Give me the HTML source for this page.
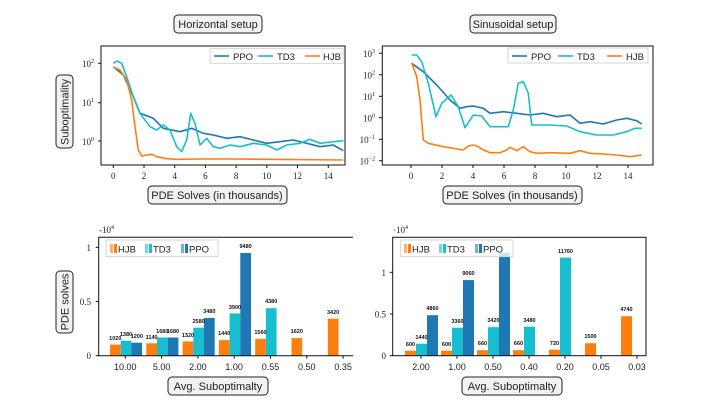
<!DOCTYPE html>
<html><head><meta charset="utf-8"><style>
html,body{margin:0;padding:0;background:#fff;width:703px;height:419px;overflow:hidden}
svg{display:block}
.t{font-family:"Liberation Serif",serif;font-size:9px;fill:#222}
.s{font-family:"Liberation Sans",sans-serif}
.lab{font-family:"Liberation Sans",sans-serif;font-size:11px;fill:#222}
.v{font-family:"Liberation Sans",sans-serif;font-size:5.5px;font-weight:bold;fill:#111}
</style></head><body>
<svg width="703" height="419" viewBox="0 0 703 419" xmlns="http://www.w3.org/2000/svg">
<rect x="174" y="15" width="88" height="18" rx="4" fill="#f2f2f2" stroke="#222" stroke-width="1"/>
<text x="218" y="28" text-anchor="middle" class="lab">Horizontal setup</text>
<rect x="470" y="15" width="86" height="18" rx="4" fill="#f2f2f2" stroke="#222" stroke-width="1"/>
<text x="513" y="28" text-anchor="middle" class="lab">Sinusoidal setup</text>
<rect x="148" y="186" width="139" height="18" rx="4" fill="#f2f2f2" stroke="#222" stroke-width="1"/>
<text x="217" y="199" text-anchor="middle" class="lab">PDE Solves (in thousands)</text>
<rect x="443" y="186" width="139" height="18" rx="4" fill="#f2f2f2" stroke="#222" stroke-width="1"/>
<text x="512" y="199" text-anchor="middle" class="lab">PDE Solves (in thousands)</text>
<rect x="56" y="75" width="17" height="73" rx="4" fill="#f2f2f2" stroke="#222" stroke-width="1"/>
<text transform="translate(68.5,112) rotate(-90)" text-anchor="middle" class="lab">Suboptimality</text>
<rect x="56" y="271" width="17" height="62" rx="4" fill="#f2f2f2" stroke="#222" stroke-width="1"/>
<text transform="translate(68.5,302) rotate(-90)" text-anchor="middle" class="lab">PDE solves</text>
<rect x="168" y="377" width="100" height="18" rx="4" fill="#f2f2f2" stroke="#222" stroke-width="1"/>
<text x="218" y="390" text-anchor="middle" class="lab">Avg. Suboptimalty</text>
<rect x="462" y="377" width="100" height="18" rx="4" fill="#f2f2f2" stroke="#222" stroke-width="1"/>
<text x="512" y="390" text-anchor="middle" class="lab">Avg. Suboptimalty</text>

<g fill="none" stroke-width="1.6" stroke-linejoin="round">
<polyline stroke="#1f77b4" points="113.3,66.7 123.3,75 133.3,96.7 140,113.3 153.3,118.3 163.3,128.3 180,131.7 191.7,128.3 203.3,133.3 213.3,135 226.7,138.3 240,136.7 253.3,140 266.7,143.3 280,141.7 293.3,140 306.7,143.3 320,146.7 333.3,145 343.3,150.7"/>
<polyline stroke="#17becf" points="113.3,63.3 116.7,61 121.7,63.3 126.7,76.7 133.3,96.7 140,113.3 150,126.7 156.7,130 163.3,125 170,130 176.7,146.7 181.7,151.7 186.7,140 190.7,113.3 195,123.3 200,145 206.7,138.3 213.3,146.7 220,148.3 230,145 240,146.7 253.3,143.3 266.7,145 276.7,150 286.7,145 300,143.3 310,139.3 320,143.3 333.3,141.7 343.3,140.7"/>
<polyline stroke="#ff7f0e" points="113.3,67.3 120,70 126.7,80 131.7,100 135,126.7 138.3,150 141.7,156 146.7,155 151.7,154.3 156.7,156.7 166.7,158.7 176.7,159.3 200,159 233.3,159 266.7,159.3 343.3,160"/>
</g>
<rect x="101" y="46" width="244" height="119" fill="none" stroke="#111" stroke-width="1"/>
<g stroke="#111" stroke-width="1">
<line x1="113.3" y1="165" x2="113.3" y2="168"/><line x1="144" y1="165" x2="144" y2="168"/><line x1="174.7" y1="165" x2="174.7" y2="168"/><line x1="205.4" y1="165" x2="205.4" y2="168"/><line x1="236.1" y1="165" x2="236.1" y2="168"/><line x1="266.8" y1="165" x2="266.8" y2="168"/><line x1="297.5" y1="165" x2="297.5" y2="168"/><line x1="328.3" y1="165" x2="328.3" y2="168"/>
<line x1="98" y1="63.3" x2="101" y2="63.3"/><line x1="98" y1="102.7" x2="101" y2="102.7"/><line x1="98" y1="141" x2="101" y2="141"/>
</g>
<g class="t" text-anchor="middle">
<text x="113.3" y="179">0</text><text x="144" y="179">2</text><text x="174.7" y="179">4</text><text x="205.4" y="179">6</text><text x="236.1" y="179">8</text><text x="266.8" y="179">10</text><text x="297.5" y="179">12</text><text x="328.3" y="179">14</text>
</g>
<g class="t" text-anchor="end">
<text x="94" y="67">10<tspan font-size="6" dy="-4">2</tspan></text>
<text x="94" y="106">10<tspan font-size="6" dy="-4">1</tspan></text>
<text x="94" y="145">10<tspan font-size="6" dy="-4">0</tspan></text>
</g>
<rect x="210" y="48.7" width="133" height="14.6" fill="#fff" fill-opacity="0.85" stroke="#ccc" stroke-width="0.8"/>
<g stroke-width="1.6"><line x1="214" y1="56" x2="229" y2="56" stroke="#1f77b4"/><line x1="258" y1="56" x2="273" y2="56" stroke="#17becf"/><line x1="305" y1="56" x2="320" y2="56" stroke="#ff7f0e"/></g>
<g class="s" font-size="9.5" fill="#222"><text x="233" y="60">PPO</text><text x="277" y="60">TD3</text><text x="323" y="60">HJB</text></g>

<g fill="none" stroke-width="1.6" stroke-linejoin="round">
<polyline stroke="#1f77b4" points="411.7,63.3 423.3,71.7 436.7,85 450,100 460,108.3 466.7,106.7 473.3,106 483.3,108.3 490,113.3 503.3,111.7 516.7,113.3 530,115 543.3,113.3 556.7,116.7 570,115 580,123.3 590,121.7 603.3,124 616.7,120 626.7,118.3 636.7,120.7 641.7,124"/>
<polyline stroke="#17becf" points="411.7,55 416.7,55 421.7,61.7 428.3,83.3 436,116.7 441.7,103.3 451,95 458.3,106.7 465,127.7 473.3,115 481.7,116 490,126.7 508.3,126.7 513.3,110 518.3,83.3 523.3,81.7 528.3,93.3 531.7,125 550,125 566.7,126 580,131.7 596.7,135 613.3,135 626.7,131.7 635,128.3 641.7,128.3"/>
<polyline stroke="#ff7f0e" points="411.7,62.7 416.7,76.7 420,100 423.3,140 428.3,143.3 443.3,146.7 463.3,150 468.3,146 473.3,145 478.3,146.7 483.3,150 490,152.7 500,152.7 506.7,150 510,147.3 516.7,150.7 523.3,146.7 530,151.7 536.7,153.3 550,152.7 570,153.3 580,150.7 590,153.3 603.3,154 616.7,155 630,156.7 641.7,155"/>
</g>
<rect x="382.3" y="46" width="270.7" height="119" fill="none" stroke="#111" stroke-width="1"/>
<g stroke="#111" stroke-width="1">
<line x1="411" y1="165" x2="411" y2="168"/><line x1="442" y1="165" x2="442" y2="168"/><line x1="473" y1="165" x2="473" y2="168"/><line x1="504" y1="165" x2="504" y2="168"/><line x1="535" y1="165" x2="535" y2="168"/><line x1="566" y1="165" x2="566" y2="168"/><line x1="597" y1="165" x2="597" y2="168"/><line x1="628" y1="165" x2="628" y2="168"/>
<line x1="379" y1="53.3" x2="382" y2="53.3"/><line x1="379" y1="74.7" x2="382" y2="74.7"/><line x1="379" y1="96.3" x2="382" y2="96.3"/><line x1="379" y1="117.7" x2="382" y2="117.7"/><line x1="379" y1="139.3" x2="382" y2="139.3"/><line x1="379" y1="160.7" x2="382" y2="160.7"/>
</g>
<g class="t" text-anchor="middle">
<text x="411" y="179">0</text><text x="442" y="179">2</text><text x="473" y="179">4</text><text x="504" y="179">6</text><text x="535" y="179">8</text><text x="566" y="179">10</text><text x="597" y="179">12</text><text x="628" y="179">14</text>
</g>
<g class="t" text-anchor="end">
<text x="375" y="57">10<tspan font-size="6" dy="-4">3</tspan></text>
<text x="375" y="78.5">10<tspan font-size="6" dy="-4">2</tspan></text>
<text x="375" y="100">10<tspan font-size="6" dy="-4">1</tspan></text>
<text x="375" y="121.5">10<tspan font-size="6" dy="-4">0</tspan></text>
<text x="375" y="143">10<tspan font-size="6" dy="-4">−1</tspan></text>
<text x="375" y="164.5">10<tspan font-size="6" dy="-4">−2</tspan></text>
</g>
<rect x="508" y="48" width="140" height="15" fill="#fff" fill-opacity="0.85" stroke="#ccc" stroke-width="0.8"/>
<g stroke-width="1.6"><line x1="512" y1="56" x2="527" y2="56" stroke="#1f77b4"/><line x1="558" y1="56" x2="573" y2="56" stroke="#17becf"/><line x1="607" y1="56" x2="622" y2="56" stroke="#ff7f0e"/></g>
<g class="s" font-size="9.5" fill="#222"><text x="531" y="60">PPO</text><text x="577" y="60">TD3</text><text x="626" y="60">HJB</text></g>

<g>
<rect x="110" y="344.6" width="10.7" height="11.1" fill="#ff7f0e"/>
<rect x="120.7" y="340.7" width="10.7" height="15" fill="#17becf"/>
<rect x="131.4" y="342.7" width="10.7" height="13" fill="#1f77b4"/>
<rect x="146.3" y="343.3" width="10.7" height="12.4" fill="#ff7f0e"/>
<rect x="157" y="337.5" width="10.7" height="18.2" fill="#17becf"/>
<rect x="167.7" y="337.5" width="10.7" height="18.2" fill="#1f77b4"/>
<rect x="182.6" y="341.4" width="10.7" height="14.3" fill="#ff7f0e"/>
<rect x="193.3" y="327.7" width="10.7" height="28" fill="#17becf"/>
<rect x="204" y="318" width="10.7" height="37.7" fill="#1f77b4"/>
<rect x="218.9" y="340.1" width="10.7" height="15.6" fill="#ff7f0e"/>
<rect x="229.6" y="313.4" width="10.7" height="42.3" fill="#17becf"/>
<rect x="240.3" y="253" width="10.7" height="102.7" fill="#1f77b4"/>
<rect x="255.2" y="338.8" width="10.7" height="16.9" fill="#ff7f0e"/>
<rect x="265.9" y="308.2" width="10.7" height="47.5" fill="#17becf"/>
<rect x="291.5" y="338.1" width="10.7" height="17.6" fill="#ff7f0e"/>
<rect x="327.8" y="318.6" width="10.7" height="37.1" fill="#ff7f0e"/>
</g>
<g class="v" text-anchor="middle">
<text x="115.3" y="340">1020</text><text x="126" y="336">1380</text><text x="136.8" y="338">1200</text>
<text x="151.6" y="339">1140</text><text x="162.3" y="333">1680</text><text x="173" y="333">1680</text>
<text x="188" y="337">1320</text><text x="198.6" y="323">2580</text><text x="209.3" y="313">3480</text>
<text x="224.2" y="335">1440</text><text x="235" y="309">3900</text><text x="245.6" y="248">9480</text>
<text x="260.5" y="334">1560</text><text x="271.2" y="303">4380</text>
<text x="296.8" y="333">1620</text><text x="333.1" y="314">3420</text>
</g>
<polyline points="353,237.3 98.7,237.3 98.7,355.7 353,355.7" fill="none" stroke="#111" stroke-width="1"/>
<g stroke="#111" stroke-width="1">
<line x1="95.7" y1="355.7" x2="98.7" y2="355.7"/><line x1="95.7" y1="301.5" x2="98.7" y2="301.5"/><line x1="95.7" y1="247.3" x2="98.7" y2="247.3"/>
<line x1="125.3" y1="355.7" x2="125.3" y2="358.7"/><line x1="161.6" y1="355.7" x2="161.6" y2="358.7"/><line x1="197.9" y1="355.7" x2="197.9" y2="358.7"/><line x1="234.2" y1="355.7" x2="234.2" y2="358.7"/><line x1="270.5" y1="355.7" x2="270.5" y2="358.7"/><line x1="306.8" y1="355.7" x2="306.8" y2="358.7"/><line x1="343.1" y1="355.7" x2="343.1" y2="358.7"/>
</g>
<g class="t" text-anchor="end"><text x="91" y="359">0</text><text x="91" y="305">0.5</text><text x="91" y="251">1</text></g>
<text x="99" y="233" class="t">-10<tspan font-size="6" dy="-4">4</tspan></text>
<g class="s" font-size="9" fill="#222" text-anchor="middle">
<text x="125.3" y="370">10.00</text><text x="161.6" y="370">5.00</text><text x="197.9" y="370">2.00</text><text x="234.2" y="370">1.00</text><text x="270.5" y="370">0.55</text><text x="306.8" y="370">0.50</text><text x="343.1" y="370">0.35</text>
</g>
<rect x="106" y="240" width="112" height="16.7" fill="#fff" fill-opacity="0.8" stroke="#ccc" stroke-width="0.8"/>
<g><rect x="110" y="244" width="3" height="9" fill="#ff7f0e" opacity="0.6"/><rect x="114" y="244" width="3" height="9" fill="#ff7f0e"/>
<rect x="145" y="244" width="3" height="9" fill="#17becf" opacity="0.6"/><rect x="149" y="244" width="3" height="9" fill="#17becf"/>
<rect x="181" y="244" width="3" height="9" fill="#1f77b4" opacity="0.6"/><rect x="185" y="244" width="3" height="9" fill="#1f77b4"/></g>
<g class="s" font-size="9.5" fill="#222"><text x="118" y="252.5">HJB</text><text x="153" y="252.5">TD3</text><text x="189" y="252.5">PPO</text></g>

<g>
<rect x="405" y="350.7" width="11" height="5" fill="#ff7f0e"/>
<rect x="416" y="343.7" width="11" height="12" fill="#17becf"/>
<rect x="427" y="315.2" width="11" height="40.5" fill="#1f77b4"/>
<rect x="441" y="350.7" width="11" height="5" fill="#ff7f0e"/>
<rect x="452" y="327.7" width="11" height="28" fill="#17becf"/>
<rect x="463" y="280.1" width="11" height="75.6" fill="#1f77b4"/>
<rect x="477" y="350.2" width="11" height="5.5" fill="#ff7f0e"/>
<rect x="488" y="327.2" width="11" height="28.5" fill="#17becf"/>
<rect x="499" y="252.7" width="11" height="103" fill="#1f77b4"/>
<rect x="513" y="350.2" width="11" height="5.5" fill="#ff7f0e"/>
<rect x="524" y="326.7" width="11" height="29" fill="#17becf"/>
<rect x="549" y="349.7" width="11" height="6" fill="#ff7f0e"/>
<rect x="560" y="257.6" width="11" height="98.1" fill="#17becf"/>
<rect x="585" y="343.2" width="11" height="12.5" fill="#ff7f0e"/>
<rect x="621" y="316.2" width="11" height="39.5" fill="#ff7f0e"/>
</g>
<g class="v" text-anchor="middle">
<text x="410.5" y="346">600</text><text x="421.5" y="339">1440</text><text x="432.5" y="310">4860</text>
<text x="446.5" y="346">600</text><text x="457.5" y="323">3360</text><text x="468.5" y="275">9060</text>
<text x="482.5" y="345">660</text><text x="493.5" y="322">3420</text>
<text x="518.5" y="345">660</text><text x="529.5" y="322">3480</text>
<text x="554.5" y="345">720</text><text x="565.5" y="253">11760</text>
<text x="590.5" y="338">1500</text><text x="626.5" y="311">4740</text>
</g>
<rect x="392.7" y="237.3" width="253.3" height="118.4" fill="none" stroke="#111" stroke-width="1"/>
<g stroke="#111" stroke-width="1">
<line x1="389.7" y1="355.7" x2="392.7" y2="355.7"/><line x1="389.7" y1="314" x2="392.7" y2="314"/><line x1="389.7" y1="272.3" x2="392.7" y2="272.3"/>
<line x1="421" y1="355.7" x2="421" y2="358.7"/><line x1="457" y1="355.7" x2="457" y2="358.7"/><line x1="493" y1="355.7" x2="493" y2="358.7"/><line x1="529" y1="355.7" x2="529" y2="358.7"/><line x1="565" y1="355.7" x2="565" y2="358.7"/><line x1="601" y1="355.7" x2="601" y2="358.7"/><line x1="637" y1="355.7" x2="637" y2="358.7"/>
</g>
<g class="t" text-anchor="end"><text x="386" y="359">0</text><text x="386" y="317.5">0.5</text><text x="386" y="276">1</text></g>
<text x="393" y="233" class="t">·10<tspan font-size="6" dy="-4">4</tspan></text>
<g class="s" font-size="9" fill="#222" text-anchor="middle">
<text x="421" y="370">2.00</text><text x="457" y="370">1.00</text><text x="493" y="370">0.50</text><text x="529" y="370">0.40</text><text x="565" y="370">0.20</text><text x="601" y="370">0.05</text><text x="637" y="370">0.03</text>
</g>
<rect x="400.7" y="240" width="112.3" height="16.7" fill="#fff" fill-opacity="0.8" stroke="#ccc" stroke-width="0.8"/>
<g><rect x="404" y="244" width="3" height="9" fill="#ff7f0e" opacity="0.6"/><rect x="408" y="244" width="3" height="9" fill="#ff7f0e"/>
<rect x="439" y="244" width="3" height="9" fill="#17becf" opacity="0.6"/><rect x="443" y="244" width="3" height="9" fill="#17becf"/>
<rect x="475" y="244" width="3" height="9" fill="#1f77b4" opacity="0.6"/><rect x="479" y="244" width="3" height="9" fill="#1f77b4"/></g>
<g class="s" font-size="9.5" fill="#222"><text x="412" y="252.5">HJB</text><text x="447" y="252.5">TD3</text><text x="483" y="252.5">PPO</text></g>
</svg>
</body></html>
